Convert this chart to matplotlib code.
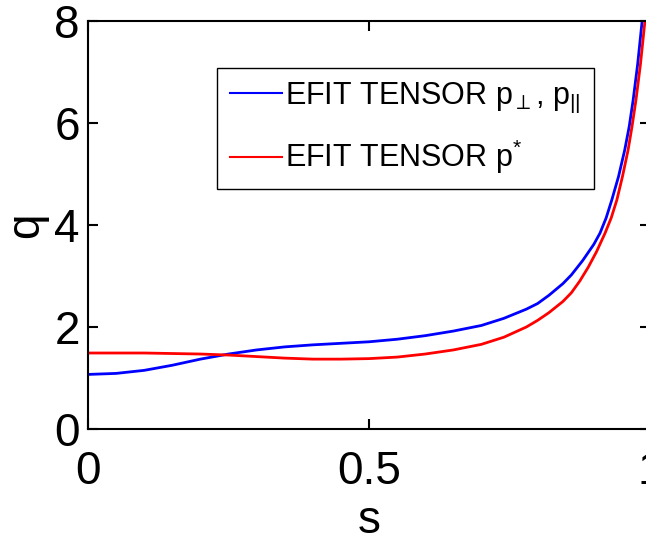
import numpy as np
import matplotlib
matplotlib.use('Agg')
import matplotlib.pyplot as plt

plt.rcParams['font.family'] = ['Liberation Sans', 'DejaVu Sans']
plt.rcParams['mathtext.fontset'] = 'custom'
plt.rcParams['mathtext.rm'] = 'Liberation Sans'
plt.rcParams['mathtext.it'] = 'Liberation Sans'
plt.rcParams['mathtext.fallback'] = 'stixsans'

# --- data ---
s_perp = [0.00, 0.05, 0.10, 0.15, 0.20, 0.25, 0.30, 0.35, 0.40, 0.45, 0.50,
          0.55, 0.60, 0.65, 0.70, 0.74, 0.78, 0.80, 0.82, 0.845, 0.86, 0.88,
          0.90, 0.911, 0.922, 0.932, 0.944, 0.955, 0.963, 0.970, 0.978, 0.986,
          0.993, 1.00]
q_perp = [1.07, 1.09, 1.15, 1.25, 1.37, 1.47, 1.55, 1.61, 1.65, 1.68, 1.71,
          1.76, 1.83, 1.92, 2.03, 2.17, 2.35, 2.46, 2.62, 2.85, 3.02, 3.30,
          3.62, 3.84, 4.14, 4.49, 4.95, 5.47, 5.93, 6.45, 7.15, 8.00,
          9.00, 10.20]

s_star = [0.00, 0.05, 0.10, 0.15, 0.20, 0.25, 0.30, 0.35, 0.40, 0.45, 0.50,
          0.55, 0.60, 0.65, 0.70, 0.74, 0.78, 0.80, 0.82, 0.845, 0.86, 0.875,
          0.89, 0.905, 0.92, 0.931, 0.941, 0.951, 0.961, 0.968, 0.975, 0.983,
          0.991, 0.997, 1.00]
q_star = [1.49, 1.49, 1.49, 1.48, 1.47, 1.45, 1.42, 1.39, 1.37, 1.37, 1.38,
          1.41, 1.47, 1.55, 1.66, 1.80, 2.00, 2.13, 2.28, 2.50, 2.67, 2.90,
          3.17, 3.48, 3.84, 4.14, 4.49, 4.95, 5.47, 5.93, 6.45, 7.15,
          8.00, 9.00, 9.60]

labels = [r'EFIT TENSOR p$_{\perp}$, p$_{||}$', r'EFIT TENSOR p$^{*}$']
xticks = [0, 0.5, 1]
xticklabels = ['0', '0.5', '1']
yticks = [0, 2, 4, 6, 8]

fig = plt.figure(figsize=(6.46, 5.35), dpi=100)
ax = fig.add_axes([88 / 646, 1 - 429 / 535, (650 - 88) / 646, (429 - 21) / 535])

ax.plot(s_perp, q_perp, color='#0000ff', lw=2.0, label=labels[0])
ax.plot(s_star, q_star, color='#ff0000', lw=2.0, label=labels[1])

ax.set_xlim(0, 1)
ax.set_ylim(0, 8)
ax.set_xticks(xticks)
ax.set_xticklabels(xticklabels)
ax.set_yticks(yticks)
ax.tick_params(direction='in', length=7, width=1.5, labelsize=33,
               top=True, right=True)
ax.tick_params(axis='x', pad=15)
ax.tick_params(axis='y', pad=6)
for sp in ax.spines.values():
    sp.set_linewidth(1.5)

ax.set_xlabel('s', fontsize=33, labelpad=4)
ax.set_ylabel('q', fontsize=33, labelpad=4)

leg = ax.legend(loc='upper left', bbox_to_anchor=(217 / 646, 1 - 68 / 535),
                bbox_transform=fig.transFigure, borderaxespad=0,
                fontsize=22, handlelength=1.7, handletextpad=0.12,
                borderpad=0.42, labelspacing=0.75, fancybox=False,
                framealpha=1, edgecolor='black')
leg.get_frame().set_linewidth(1.0)
for ln in leg.get_lines():
    ln.set_linewidth(1.5)

fig.savefig('out.png', dpi=100)
